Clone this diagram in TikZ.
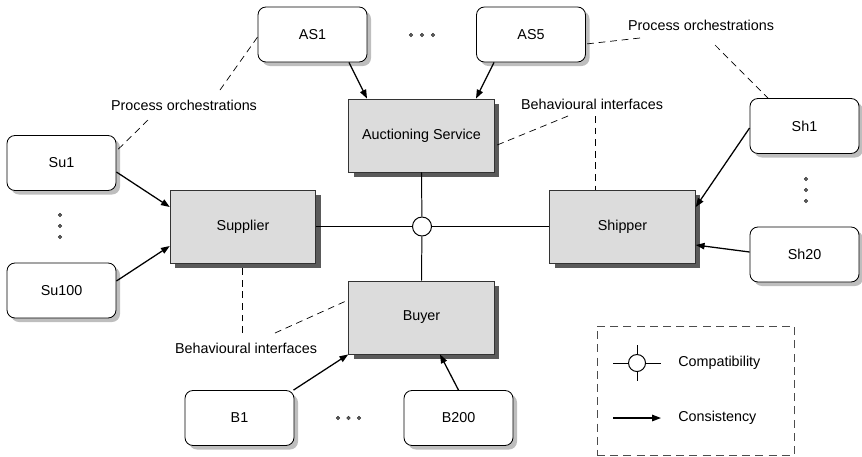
\documentclass[tikz,border=0pt]{standalone}
\usepackage{fontspec}
\setmainfont{Liberation Sans}
\usepackage{tikz}
\usetikzlibrary{shapes,arrows.meta,positioning,calc,shadows}
\usepackage{xcolor}
\definecolor{boxgray}{RGB}{220,220,220}
\definecolor{shadowdark}{RGB}{90,90,90}
\definecolor{shadowlight}{RGB}{190,190,190}
\definecolor{dotgray}{RGB}{95,95,95}
\tikzset{
  pbox/.style={rectangle, draw=black, fill=white, rounded corners=0.2cm, line width=0.6pt,
               minimum width=2.725cm, minimum height=1.375cm, align=center,
               drop shadow={shadow xshift=0.1cm, shadow yshift=-0.1cm, fill=shadowlight, opacity=1}},
  ibox/.style={rectangle, draw=black!80, fill=boxgray, line width=0.6pt,
               minimum width=3.64cm, minimum height=1.825cm, align=center,
               drop shadow={shadow xshift=0.125cm, shadow yshift=-0.125cm, fill=shadowdark, opacity=1}},
  arr/.style={-{Triangle[length=0.22cm,width=0.16cm]}, line width=0.9pt},
  dline/.style={dash pattern=on 0.17cm off 0.12cm, line width=0.5pt},
}

\begin{document}
\begin{tikzpicture}[x=0.025cm, y=-0.025cm, font=\fontsize{10.2}{12}\selectfont,
    hub/.style={circle, draw=black, fill=white, line width=0.7pt, minimum size=19*0.025cm, inner sep=0pt},
    lbl/.style={inner sep=1pt}
  ]
    \useasboundingbox (0,0) rectangle (862,456);
    % interface boxes
    \node[ibox] (auc) at (421.5,135.5) {Auctioning Service};
    \node[ibox] (sup) at (243,226.5)   {Supplier};
    \node[ibox] (shp) at (622.5,226.5) {Shipper};
    \node[ibox] (buy) at (421.5,317.5) {Buyer};
    \node[hub]  (hub) at (422,226.5) {};
    % orchestrations
    \node[pbox] (as1)  at (312.5,34.5) {AS1};
    \node[pbox] (as5)  at (531,34.5)   {AS5};
    \node[pbox] (su1)  at (61.5,163)   {Su1};
    \node[pbox] (su100) at (61.5,290.5) {Su100};
    \node[pbox] (sh1)  at (804.5,126)  {Sh1};
    \node[pbox] (sh20) at (804.5,254.5) {Sh20};
    \node[pbox] (b1)   at (239.5,418)  {B1};
    \node[pbox] (b200) at (458.5,418)  {B200};
    % compatibility links
    \draw[line width=0.7pt] (sup.east) -- (hub) -- (shp.west);
    \draw[line width=0.7pt] (auc.south) -- (hub) -- (buy.north);
    % consistency arrows
    \draw[arr] ($(as1.south)+(36.5,0)$) -- ($(auc.north)+(-54.5,0)$);
    \draw[arr] ($(as5.south)+(-37,0)$) -- ($(auc.north)+(54.5,0)$);
    \draw[arr] ($(su1.east)+(0,9)$) -- ($(sup.west)+(0,-19.5)$);
    \draw[arr] ($(su100.east)+(0,-9.5)$) -- ($(sup.west)+(0,19.5)$);
    \draw[arr] ($(sh1.west)+(0,2)$) -- ($(shp.east)+(0,-19.5)$);
    \draw[arr] ($(sh20.west)+(0,-2.5)$) -- ($(shp.east)+(0,18.5)$);
    \draw[arr] ($(b1.north)+(54,0)$) -- (buy.south west);
    \draw[arr] (b200.north) -- ($(buy.south)+(18.5,0)$);
    % ellipses
    \foreach \x/\y in {411/35,422/35,433/35,338/418,348.5/418,359/418,
                       60/215,60/226,60/237,806/179,806/190,806/201}
      \draw[fill=dotgray, draw=black!80, line width=0.3pt] (\x,\y) circle (1.8);
    % annotations
    \node[lbl] (lpo) at (184,105) {Process orchestrations};
    \node[lbl] (rpo) at (701,25)  {Process orchestrations};
    \node[lbl] (ubi) at (592,104) {Behavioural interfaces};
    \node[lbl] (lbi) at (246,348) {Behavioural interfaces};
    \coordinate (ubiv) at ($(ubi)+(3,12)$);
    \coordinate (lbiv) at ($(lbi)+(-4,-15)$);
    \draw[dline] ($(lpo)+(36,-15)$) -- ($(as1.west)+(0,2.5)$);
    \draw[dline] ($(lpo)+(-36,15)$) -- ($(su1.east)+(1,-13)$);
    \draw[dline] ($(rpo)+(-61,13)$) -- ($(as5.east)+(0,9.5)$);
    \draw[dline] ($(rpo)+(14,20)$) -- ($(sh1.north)+(-36.5,0)$);
    \draw[dline] ($(ubi)+(-24,12)$) -- ($(auc.east)+(0,10.5)$);
    \draw[dline] (ubiv) -- (ubiv |- shp.north);
    \draw[dline] (lbiv) -- (lbiv |- sup.south);
    \draw[dline] ($(lbi)+(29,-15)$) -- ($(buy.west)+(0,-17.5)$);
    % legend
    \node[draw=black!70, dash pattern=on 0.2cm off 0.13cm, line width=0.7pt,
          minimum width=197*0.025cm, minimum height=129*0.025cm] (leg) at (695.5,390.5) {};
    \node[hub, minimum size=17*0.025cm] (lhub) at (637,363) {};
    \coordinate (lw) at (613,363); \coordinate (le) at (661,363);
    \coordinate (ln) at (637,345); \coordinate (ls) at (637,381);
    \draw[line width=0.7pt] (lw) -- (lhub) -- (le);
    \draw[line width=0.7pt] (ln) -- (lhub) -- (ls);
    \node[anchor=west, inner sep=0pt] (lcomp) at (678,363) {Compatibility};
    \coordinate (aw) at (613,418); \coordinate (ae) at (661,418);
    \draw[arr] (aw) -- (ae);
    \node[anchor=west, inner sep=0pt] (lcons) at (678,418) {Consistency};
  \end{tikzpicture}
\end{document}
